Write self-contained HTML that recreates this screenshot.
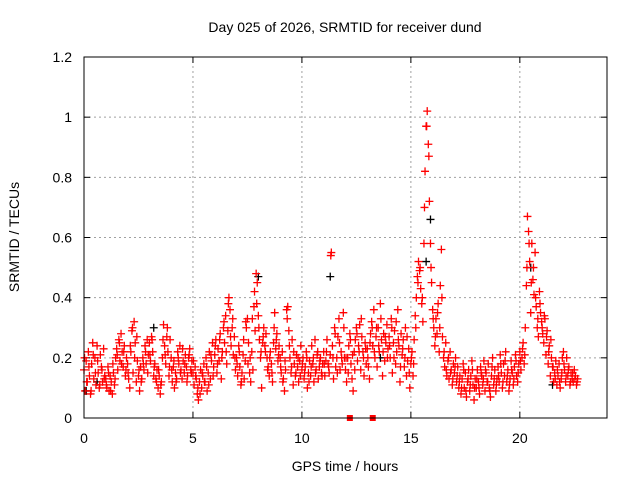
<!DOCTYPE html>
<html><head><meta charset="utf-8"><style>
body{margin:0;background:#fff;}
svg{display:block;font-family:"Liberation Sans",sans-serif;}
</style></head><body>
<svg id="chart" width="640" height="480">
<text x="345" y="32" text-anchor="middle" font-size="14">Day 025 of 2026, SRMTID for receiver dund</text>
<text transform="translate(19,237) rotate(-90)" text-anchor="middle" font-size="14">SRMTID / TECUs</text>
<text x="345" y="471" text-anchor="middle" font-size="14">GPS time / hours</text>
<g id="grid"></g>
<g id="ticks"></g>
<g id="marks"></g>
<rect x="84" y="57" width="523" height="361" fill="none" stroke="#000" stroke-width="1"/>
</svg>
<script>
const xTicks=[0,5,10,15,20];
const yTicks=[0,0.2,0.4,0.6,0.8,1,1.2];
const yTickLabels=["0","0.2","0.4","0.6","0.8","1","1.2"];
const step=0.05;
const step2=0.1;
const redValues=[
0.16,0.09,0.19,0.12,0.22,0.14,0.08,0.18,0.25,0.13,0.2,0.11,0.24,0.15,0.1,0.21,0.17,0.12,0.23,0.14,
0.13,0.1,0.17,0.09,0.14,0.12,0.08,0.15,0.11,0.2,0.23,0.16,0.26,0.19,0.28,0.22,0.17,0.24,0.14,0.2,
0.18,0.13,0.1,0.22,0.29,0.15,0.32,0.25,0.12,0.19,0.14,0.09,0.17,0.13,0.2,0.16,0.24,0.18,0.26,0.21,
0.25,0.19,0.27,0.22,0.14,0.18,0.13,0.16,0.1,0.14,0.08,0.12,0.2,0.31,0.24,0.18,0.27,0.22,0.14,0.26,
0.2,0.12,0.17,0.1,0.15,0.13,0.22,0.18,0.24,0.16,0.13,0.19,0.15,0.21,0.17,0.14,0.2,0.23,0.16,0.19,
0.15,0.11,0.17,0.13,0.08,0.06,0.12,0.16,0.1,0.14,0.18,0.12,0.2,0.09,0.15,0.22,0.13,0.19,0.25,0.17,
0.21,0.26,0.15,0.23,0.19,0.28,0.13,0.22,0.3,0.25,0.34,0.18,0.29,0.4,0.36,0.24,0.3,0.21,0.27,0.16,
0.2,0.14,0.24,0.17,0.11,0.15,0.21,0.13,0.19,0.3,0.33,0.25,0.15,0.12,0.22,0.16,0.37,0.29,0.48,0.45,
0.34,0.26,0.2,0.1,0.25,0.3,0.24,0.28,0.2,0.17,0.14,0.22,0.18,0.12,0.25,0.35,0.23,0.28,0.19,0.24,
0.2,0.15,0.22,0.13,0.09,0.16,0.36,0.37,0.29,0.2,0.15,0.26,0.11,0.18,0.14,0.21,0.17,0.12,0.19,0.24,
0.16,0.2,0.13,0.17,0.22,0.1,0.15,0.19,0.14,0.24,0.18,0.12,0.26,0.16,0.21,0.13,0.17,0.2,0.15,0.18,
0.22,0.14,0.19,0.26,0.18,0.15,0.21,0.55,0.24,0.13,0.3,0.17,0.2,0.27,0.33,0.16,0.22,0.18,0.35,0.2,
0.16,0.12,0.2,0.24,0.28,0.18,0.13,0.09,0.22,0.26,0.3,0.19,0.24,0.31,0.16,0.27,0.22,0.14,0.25,0.18,
0.23,0.17,0.13,0.28,0.32,0.24,0.36,0.2,0.27,0.17,0.3,0.22,0.38,0.26,0.14,0.28,0.19,0.25,0.31,0.23,
0.27,0.2,0.33,0.15,0.25,0.29,0.18,0.22,0.36,0.24,0.12,0.28,0.21,0.26,0.17,0.3,0.14,0.19,0.23,0.1,
0.18,0.22,0.14,0.26,0.34,0.4,0.47,0.52,0.49,0.43,0.38,0.32,0.58,0.82,0.97,1.02,0.91,0.72,0.58,0.45,
0.36,0.3,0.24,0.33,0.28,0.38,0.22,0.44,0.56,0.27,0.2,0.17,0.25,0.14,0.19,0.13,0.22,0.16,0.11,0.18,
0.15,0.2,0.12,0.17,0.1,0.14,0.08,0.13,0.18,0.1,0.15,0.07,0.12,0.16,0.09,0.14,0.19,0.11,0.06,0.13,
0.1,0.16,0.12,0.08,0.17,0.14,0.11,0.19,0.09,0.15,0.12,0.18,0.1,0.07,0.14,0.2,0.11,0.16,0.09,0.13,
0.17,0.12,0.21,0.15,0.1,0.18,0.14,0.22,0.12,0.16,0.09,0.13,0.19,0.15,0.11,0.17,0.21,0.14,0.12,0.18,
0.22,0.16,0.2,0.25,0.18,0.3,0.44,0.67,0.62,0.52,0.35,0.58,0.46,0.41,0.55,0.37,0.3,0.27,0.42,0.35,
0.32,0.28,0.25,0.33,0.21,0.29,0.18,0.24,0.14,0.2,0.17,0.12,0.15,0.19,0.11,0.14,0.18,0.1,0.13,0.2,
0.22,0.16,0.12,0.2,0.14,0.17,0.11,0.15,0.13,0.12,0.16,0.14,0.11,0.13];
const redValues2=[
0.2,0.12,0.17,0.09,0.21,0.15,0.19,0.11,0.16,0.13,
0.11,0.15,0.09,0.18,0.13,0.21,0.25,0.18,0.22,0.16,
0.15,0.24,0.3,0.2,0.27,0.16,0.12,0.18,0.22,0.15,
0.21,0.26,0.17,0.12,0.16,0.11,0.26,0.21,0.3,0.17,
0.16,0.19,0.12,0.2,0.15,0.23,0.18,0.12,0.21,0.15,
0.19,0.14,0.1,0.08,0.15,0.12,0.17,0.11,0.21,0.14,
0.24,0.18,0.26,0.2,0.32,0.22,0.38,0.27,0.33,0.2,
0.18,0.22,0.12,0.26,0.32,0.18,0.2,0.33,0.42,0.38,
0.3,0.22,0.27,0.22,0.16,0.2,0.15,0.3,0.26,0.21,
0.17,0.12,0.19,0.33,0.24,0.17,0.22,0.15,0.2,0.14,
0.18,0.15,0.2,0.12,0.17,0.2,0.15,0.22,0.19,0.14,
0.18,0.22,0.17,0.54,0.2,0.28,0.15,0.25,0.2,0.3,
0.2,0.15,0.26,0.21,0.16,0.28,0.22,0.33,0.2,0.23,
0.2,0.25,0.3,0.22,0.3,0.24,0.33,0.22,0.27,0.2,
0.24,0.3,0.2,0.32,0.26,0.17,0.23,0.2,0.27,0.15,
0.2,0.18,0.3,0.45,0.5,0.4,0.7,0.97,0.87,0.5,
0.33,0.27,0.35,0.3,0.4,0.22,0.16,0.2,0.15,0.13,
0.17,0.14,0.12,0.1,0.16,0.09,0.13,0.11,0.16,0.1,
0.13,0.1,0.15,0.13,0.16,0.12,0.09,0.17,0.13,0.11,
0.14,0.18,0.12,0.19,0.14,0.11,0.16,0.13,0.19,0.15,
0.19,0.23,0.21,0.5,0.58,0.45,0.5,0.4,0.33,0.38,
0.3,0.34,0.27,0.22,0.26,0.17,0.13,0.16,0.12,0.15,
0.18,0.14,0.16,0.12,0.15,0.13,0.12];
const blackTimes=[0.1,0.6,3.2,8.0,11.3,13.6,15.7,15.9,20.5,21.5];
const blackValues=[0.09,0.12,0.3,0.47,0.47,0.2,0.52,0.66,0.5,0.11];
const gapTimes=[12.2,13.25];

const X0=84,X1=607,Y0=418,Y1=57;
const xs=v=>X0+v/24*(X1-X0);
const ys=v=>Y0-v/1.2*(Y0-Y1);
const NS="http://www.w3.org/2000/svg";
const grid=document.getElementById('grid'),ticks=document.getElementById('ticks'),marks=document.getElementById('marks');
function mk(tag,attrs,parent){const e=document.createElementNS(NS,tag);for(const k in attrs)e.setAttribute(k,attrs[k]);parent.appendChild(e);return e;}
xTicks.forEach(t=>{
  const x=xs(t);
  if(t>0){const g=mk('line',{x1:x,x2:x,y1:Y0,y2:Y1,stroke:'#a0a0a0','stroke-dasharray':'2,3'},grid);
  
  }
  mk('line',{x1:x,x2:x,y1:Y0,y2:Y0-6,stroke:'#000'},ticks);
  mk('line',{x1:x,x2:x,y1:Y1,y2:Y1+6,stroke:'#000'},ticks);
  const l=mk('text',{x:x,y:443,'text-anchor':'middle','font-size':'14'},ticks);l.textContent=t;
  
  
});
yTicks.forEach((t,i)=>{
  const y=ys(t);
  if(t>0&&t<1.2){const g=mk('line',{x1:X0,x2:X1,y1:y,y2:y,stroke:'#a0a0a0','stroke-dasharray':'2,3'},grid);
  
  }
  mk('line',{x1:X0,x2:X0+6,y1:y,y2:y,stroke:'#000'},ticks);
  mk('line',{x1:X1,x2:X1-6,y1:y,y2:y,stroke:'#000'},ticks);
  const l=mk('text',{x:72,y:y+5,'text-anchor':'end','font-size':'14'},ticks);l.textContent=yTickLabels[i];
  
  
});
function plus(t,v,color,name){
  const x=xs(t),y=ys(v);
  const p=mk('path',{d:`M${x-4},${y}h8M${x},${y-4}v8`,stroke:color,'stroke-width':'1.3','fill':'none'},marks);
  
  
}
blackTimes.forEach((t,i)=>plus(t,blackValues[i],'#000','black-point'));
redValues.forEach((v,i)=>plus(i*step,v,'#f00','red-point'));
redValues2.forEach((v,i)=>plus(i*step2+0.025,v,'#f00','red-point'));
gapTimes.forEach(t=>{
  const r=mk('rect',{x:xs(t)-3,y:Y0-3,width:6,height:6,fill:'#f00'},marks);
  
  
});
</script>
</body></html>
